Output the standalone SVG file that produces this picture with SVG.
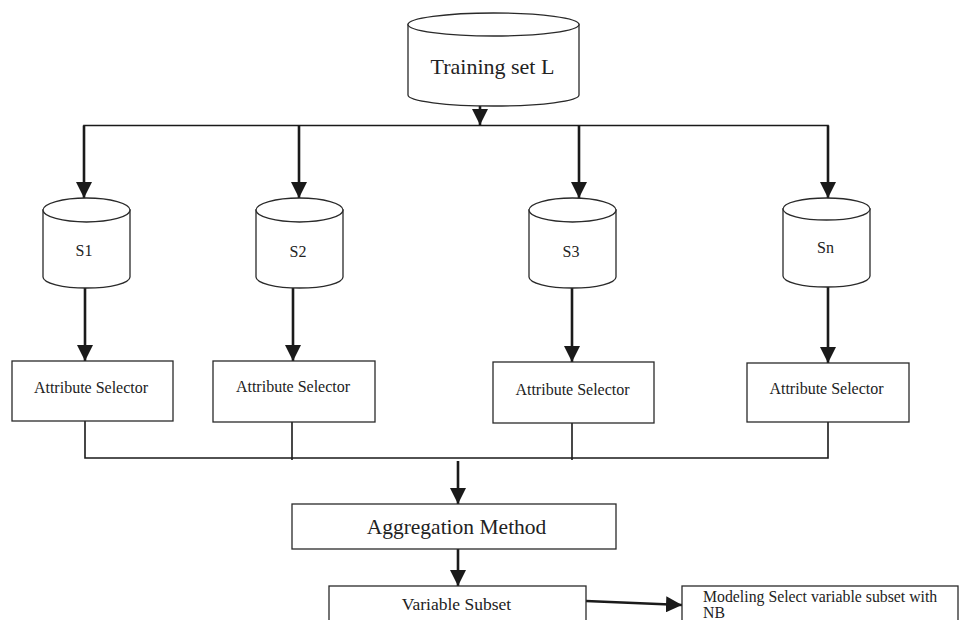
<svg xmlns="http://www.w3.org/2000/svg" width="964" height="620" viewBox="0 0 964 620">
<style>
.shape{fill:#fff;stroke:#2a2a2a;stroke-width:1.3}
.t{font-family:"Liberation Serif","Times New Roman",serif;fill:#222;text-anchor:middle}
.ts{font-family:"Liberation Serif","Times New Roman",serif;fill:#222;text-anchor:start}
.arr{stroke:#1a1a1a;stroke-width:2.6;fill:none}
.thin{stroke:#1a1a1a;stroke-width:1.6;fill:none}
</style>
<defs>
<marker id="ah" markerUnits="userSpaceOnUse" markerWidth="17" markerHeight="16" refX="16" refY="8" orient="auto" viewBox="0 0 17 16">
<path d="M0,0 L16,8 L0,16 Z" fill="#1a1a1a"/>
</marker>
</defs>
<rect width="964" height="620" fill="#fff"/>

<g id="connectors">
<line class="arr" x1="480" y1="105" x2="480" y2="125" marker-end="url(#ah)"/>
<polyline class="thin" points="84,198 84,125.5 828,125.5 828,198"/>
<line class="arr" x1="84" y1="125.5" x2="84" y2="198" marker-end="url(#ah)"/>
<line class="arr" x1="299" y1="125.5" x2="299" y2="198" marker-end="url(#ah)"/>
<line class="arr" x1="579" y1="125.5" x2="579" y2="198" marker-end="url(#ah)"/>
<line class="arr" x1="828" y1="125.5" x2="828" y2="198" marker-end="url(#ah)"/>
<line class="arr" x1="85" y1="288" x2="85" y2="361" marker-end="url(#ah)"/>
<line class="arr" x1="293" y1="288" x2="293" y2="361" marker-end="url(#ah)"/>
<line class="arr" x1="572" y1="288" x2="572" y2="362" marker-end="url(#ah)"/>
<line class="arr" x1="828" y1="287" x2="828" y2="363" marker-end="url(#ah)"/>
<polyline class="thin" points="85,421 85,458 828,458 828,422"/>
<line class="thin" x1="292" y1="422" x2="292" y2="460"/>
<line class="thin" x1="572" y1="423" x2="572" y2="460"/>
<line class="arr" x1="458" y1="461" x2="458" y2="504" marker-end="url(#ah)"/>
<line class="arr" x1="458" y1="549" x2="458" y2="586" marker-end="url(#ah)"/>
<line class="arr" x1="586" y1="601" x2="682" y2="605" marker-end="url(#ah)"/>
</g>

<g id="training-set">
<path class="shape" d="M408,24.5 L408,95 A85.5,11 0 0 0 579,95 L579,24.5 Z"/>
<ellipse class="shape" cx="493.5" cy="24.5" rx="85.5" ry="11.5"/>
<text class="t" x="492.5" y="74" font-size="22">Training set L</text>
</g>

<g id="s1">
<path class="shape" d="M43,210 L43,277 A43.5,11 0 0 0 130,277 L130,210 Z"/>
<ellipse class="shape" cx="86.5" cy="210" rx="43.5" ry="12"/>
<text class="t" x="84" y="256" font-size="16">S1</text>
</g>
<g id="s2">
<path class="shape" d="M256,210 L256,277 A43.5,11 0 0 0 343,277 L343,210 Z"/>
<ellipse class="shape" cx="299.5" cy="210" rx="43.5" ry="12"/>
<text class="t" x="298" y="257" font-size="16">S2</text>
</g>
<g id="s3">
<path class="shape" d="M529,210 L529,277 A43.5,11 0 0 0 616,277 L616,210 Z"/>
<ellipse class="shape" cx="572.5" cy="210" rx="43.5" ry="12"/>
<text class="t" x="571" y="257" font-size="16">S3</text>
</g>
<g id="sn">
<path class="shape" d="M783,209 L783,276 A43.5,11 0 0 0 870,276 L870,209 Z"/>
<ellipse class="shape" cx="826.5" cy="209" rx="43.5" ry="11"/>
<text class="t" x="825.5" y="253" font-size="16">Sn</text>
</g>

<g id="attr1">
<rect class="shape" x="12" y="361" width="161" height="60"/>
<text class="t" x="91" y="393" font-size="16">Attribute Selector</text>
</g>
<g id="attr2">
<rect class="shape" x="213" y="361" width="162" height="61"/>
<text class="t" x="293" y="392" font-size="16">Attribute Selector</text>
</g>
<g id="attr3">
<rect class="shape" x="493" y="362" width="161" height="61"/>
<text class="t" x="572.5" y="395" font-size="16">Attribute Selector</text>
</g>
<g id="attrn">
<rect class="shape" x="747" y="363" width="162" height="59"/>
<text class="t" x="826.5" y="394" font-size="16">Attribute Selector</text>
</g>

<g id="aggregation">
<rect class="shape" x="292" y="504" width="324" height="45"/>
<text class="t" x="456.5" y="534" font-size="21.5">Aggregation Method</text>
</g>

<g id="variable-subset">
<rect class="shape" x="329" y="586" width="257" height="40"/>
<text class="t" x="456.5" y="610" font-size="17.5">Variable Subset</text>
</g>

<g id="modeling">
<rect class="shape" x="682" y="586" width="276" height="40"/>
<text class="ts" x="703" y="602" font-size="15.8">Modeling Select variable subset with</text>
<text class="ts" x="703" y="618" font-size="15.8">NB</text>
</g>
</svg>
